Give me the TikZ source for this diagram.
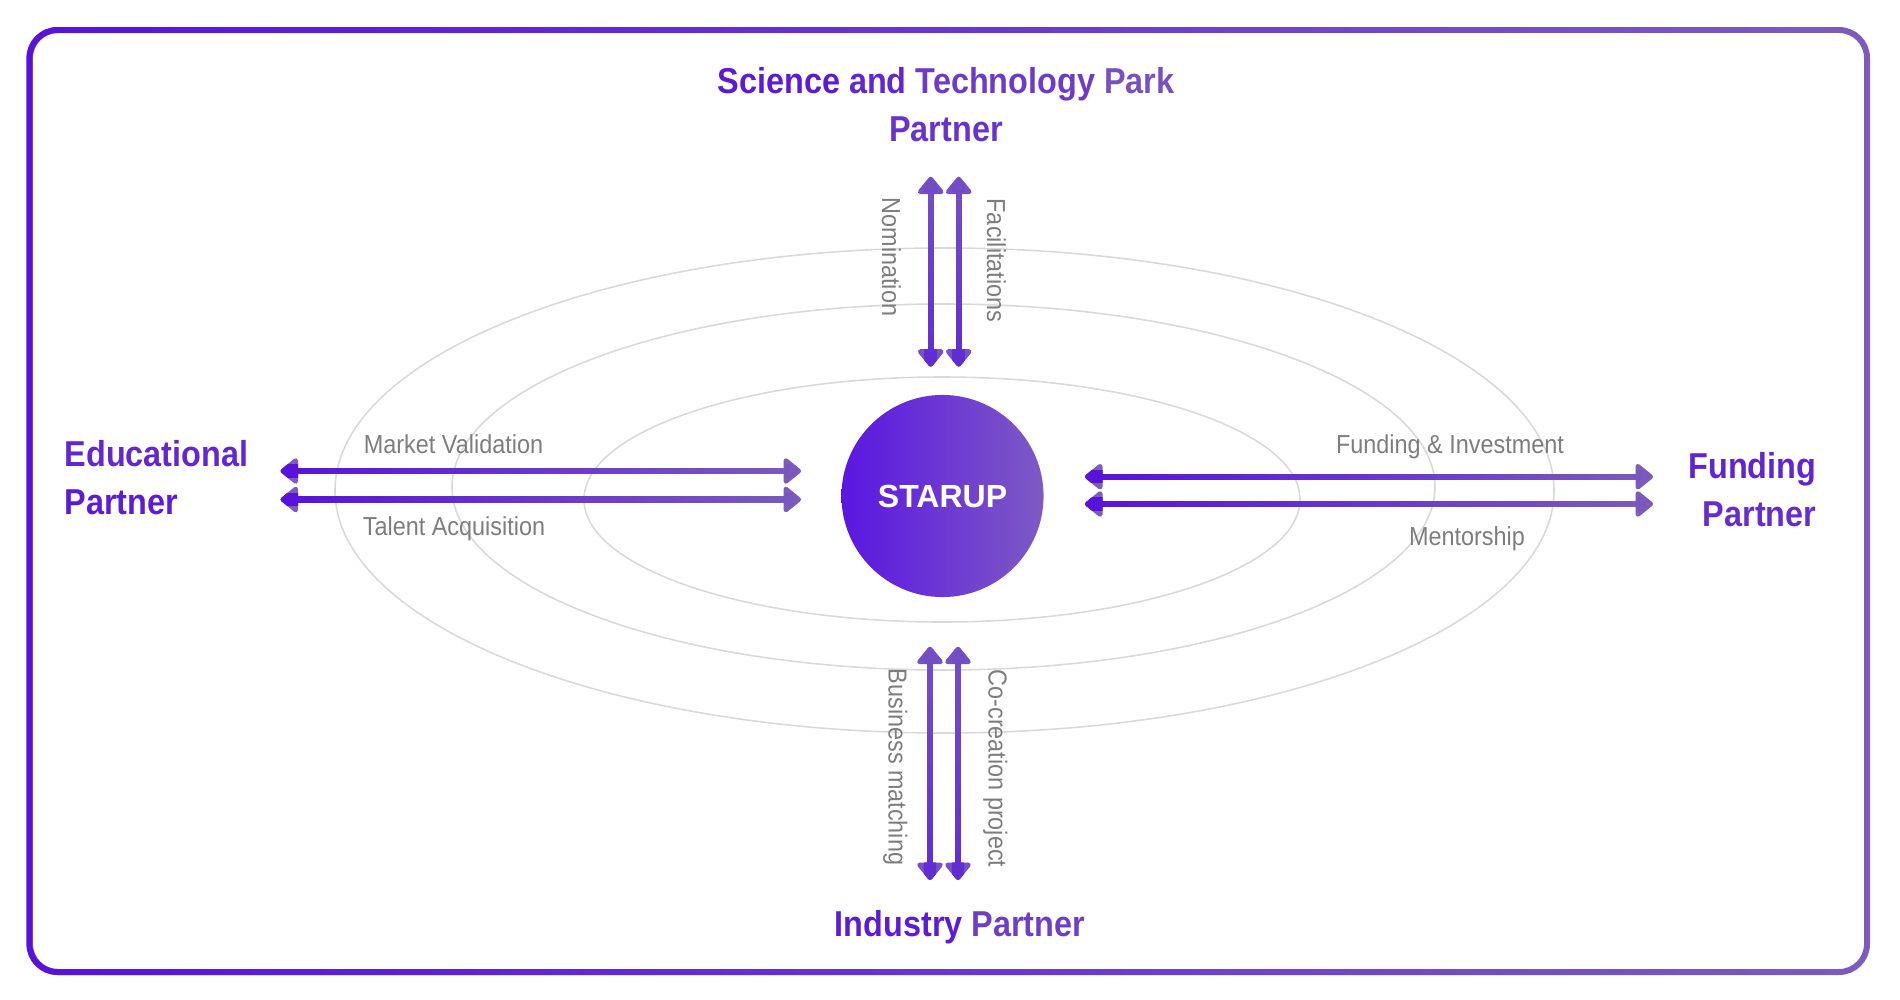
\documentclass[tikz,border=0pt]{standalone}
\usepackage{fontspec}
\setmainfont{Liberation Sans}
\newfontfamily\labfont[FakeStretch=0.9]{Liberation Sans}
\usetikzlibrary{arrows.meta,fadings,calc}
\definecolor{pdark}{RGB}{88,18,218}
\definecolor{plight}{RGB}{124,92,188}
\definecolor{vdark}{RGB}{96,44,212}
\definecolor{vlight}{RGB}{116,82,196}
\definecolor{ringgray}{RGB}{217,217,217}
\definecolor{labgray}{RGB}{125,125,125}
\definecolor{cdark}{RGB}{90,22,226}
\definecolor{clight}{RGB}{126,90,196}
\tikzfading[name=darkleft, left color=transparent!0, right color=transparent!100]
\tikzfading[name=darkbottom, bottom color=transparent!0, top color=transparent!100]
\tikzset{
  ring/.style={draw=ringgray, line width=0.45pt},
  biglab/.style={inner sep=0pt, font=\labfont\bfseries\fontsize{10.24pt}{13.66pt}\selectfont},
  smalllab/.style={inner sep=0pt, text=labgray, font=\labfont\fontsize{7.4pt}{9pt}\selectfont},
  dbl/.style={line width=1.75pt, {Triangle[width=8.4pt,length=5.4pt,round]}-{Triangle[width=8.4pt,length=5.4pt,round]}},
  framebox/.style={line width=1.7pt, rounded corners=0.28cm},
}
\begin{document}
\begin{tikzpicture}[x=0.01cm, y=-0.01cm]
\useasboundingbox (0,0) rectangle (1900,1000);
% frame
\draw[framebox, plight] (30,30) rectangle (1867,972);
\draw[framebox, pdark, path fading=darkleft] (30,30) rectangle (1867,972);
% orbits
\draw[ring] (944.5,490.5) ellipse [x radius=609.5, y radius=242.5];
\draw[ring] (943.5,487) ellipse [x radius=491.5, y radius=183];
\draw[ring] (942,499.5) ellipse [x radius=358, y radius=122.5];
% center
\node[circle, minimum size=2.02cm, inner sep=0pt, left color=cdark, right color=clight,
      text=white, font=\bfseries\fontsize{9.1pt}{10pt}\selectfont] (startup) at (942.5,496) {STARUP};
% partners
\node[biglab, anchor=north, align=center] (stp) at (946,66.5)
  {\textcolor{pdark!90!plight}{Science} \textcolor{pdark!72!plight}{and} \textcolor{pdark!45!plight}{Technology} \textcolor{pdark!15!plight}{Park}\\\textcolor{pdark!55!plight}{Partner}};
\node[biglab, anchor=north west, align=left] (edu) at (64,439.2)
  {\textcolor{pdark!72!plight}{Educational}\\\textcolor{pdark!88!plight}{Partner}};
\node[biglab, anchor=north east, align=right] (fund) at (1817,451.2)
  {\textcolor{pdark!75!plight}{Funding}\\\textcolor{pdark!65!plight}{Partner}};
\node[biglab, anchor=base] (ind) at (960,936.7)
  {\textcolor{pdark!88!plight}{Industry} \textcolor{pdark!40!plight}{Partner}};
% arrow ends
\coordinate (la1) at (280.6,471);   \coordinate (lb1) at (801,471);
\coordinate (la2) at (280.6,499.5); \coordinate (lb2) at (801,499.5);
\coordinate (ra1) at (1085,476.7);  \coordinate (rb1) at (1653,476.7);
\coordinate (ra2) at (1085,504);    \coordinate (rb2) at (1653,504);
\coordinate (ta1) at (930.7,176.7); \coordinate (tb1) at (930.7,366.7);
\coordinate (ta2) at (958.7,176.7); \coordinate (tb2) at (958.7,366.7);
\coordinate (ba1) at (930,646.7);   \coordinate (bb1) at (930,880);
\coordinate (ba2) at (958,646.7);   \coordinate (bb2) at (958,880);
% horizontal arrows
\foreach \s/\e in {la1/lb1, la2/lb2, ra1/rb1, ra2/rb2}{
  \draw[dbl, plight] (\s) -- (\e);
  \draw[dbl, pdark, path fading=darkleft] (\s) -- (\e);
}
% vertical arrows
\foreach \s/\e in {ta1/tb1, ta2/tb2, ba1/bb1, ba2/bb2}{
  \draw[dbl, vlight] (\s) -- (\e);
  \draw[dbl, vdark, path fading=darkbottom] (\s) -- (\e);
}
% labels
\node[smalllab, anchor=base] (mv) at (453.5,453.3) {Market Validation};
\node[smalllab, anchor=base] (ta) at (454,535) {Talent Acquisition};
\node[smalllab, anchor=base] (fi) at (1450,453) {Funding \& Investment};
\node[smalllab, anchor=base] (me) at (1467,545) {Mentorship};
\node[smalllab, anchor=base, rotate=-90] (no) at (882,257) {Nomination};
\node[smalllab, anchor=base, rotate=-90] (fa) at (987,260.5) {Facilitations};
\node[smalllab, anchor=base, rotate=-90] (bm) at (888.5,767) {Business matching};
\node[smalllab, anchor=base, rotate=-90] (cc) at (988.5,768.5) {Co-creation project};
\end{tikzpicture}
\end{document}
